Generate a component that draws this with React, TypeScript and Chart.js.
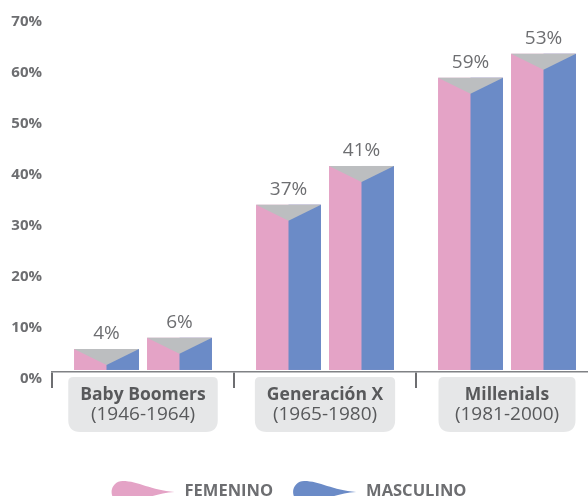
import React, { useEffect, useRef } from 'react';
import { Chart, registerables } from 'chart.js';

Chart.register(...registerables);

// ---- data ----
const categoryNames = ['Baby Boomers', 'Generación X', 'Millenials'];
const categoryYears = ['(1946-1964)', '(1965-1980)', '(1981-2000)'];
const barA = [4.1, 32.4, 57.3];
const barB = [6.3, 40.0, 62.0];
const labelsA = ['4%', '37%', '59%'];
const labelsB = ['6%', '41%', '53%'];
const yTicks = [0, 10, 20, 30, 40, 50, 60, 70];
const legendLabels = ['FEMENINO', 'MASCULINO'];

// ---- style ----
const PINK = '#e4a3c6';
const BLUE = '#6b8bc7';
const GREY = '#bcbec0';
const BOX = '#e6e7e8';
const TEXT = '#6d6e71';
const DARK = '#58595b';
const FONT = '"Open Sans", sans-serif';

function roundedBox(ctx: CanvasRenderingContext2D, x: number, y: number, w: number, h: number, rt: number, rb: number) {
  ctx.beginPath();
  ctx.moveTo(x + rt, y);
  ctx.lineTo(x + w - rt, y);
  ctx.quadraticCurveTo(x + w, y, x + w, y + rt);
  ctx.lineTo(x + w, y + h - rb);
  ctx.quadraticCurveTo(x + w, y + h, x + w - rb, y + h);
  ctx.lineTo(x + rb, y + h);
  ctx.quadraticCurveTo(x, y + h, x, y + h - rb);
  ctx.lineTo(x, y + rt);
  ctx.quadraticCurveTo(x, y, x + rt, y);
  ctx.closePath();
}

function comet(ctx: CanvasRenderingContext2D, x0: number, cy: number, len: number, r: number, color: string) {
  const cx = x0 + r;
  ctx.beginPath();
  ctx.moveTo(cx, cy - r);
  ctx.arc(cx, cy, r, -Math.PI / 2, Math.PI / 2, true);
  ctx.bezierCurveTo(cx + (len - r) * 0.3, cy + r, cx + (len - r) * 0.55, cy + r * 0.15, x0 + len, cy);
  ctx.bezierCurveTo(cx + (len - r) * 0.55, cy - r * 0.15, cx + (len - r) * 0.3, cy - r, cx, cy - r);
  ctx.closePath();
  ctx.fillStyle = color;
  ctx.fill();
}

const decorPlugin = {
  id: 'decor',
  afterDatasetsDraw(chart: any) {
    const ctx: CanvasRenderingContext2D = chart.ctx;
    const valueLabels = [labelsA, labelsB];
    chart.data.datasets.forEach((_ds: any, di: number) => {
      const meta = chart.getDatasetMeta(di);
      meta.data.forEach((bar: any, i: number) => {
        const { x, y, base, width } = bar.getProps(['x', 'y', 'base', 'width'], true);
        const l = x - width / 2;
        const r = x + width / 2;
        const depth = Math.min(16, base - y);
        ctx.save();
        ctx.fillStyle = BLUE;
        ctx.fillRect(x, y, r - x, base - y);
        ctx.fillStyle = GREY;
        ctx.beginPath();
        ctx.moveTo(l, y);
        ctx.lineTo(r, y);
        ctx.lineTo(x, y + depth);
        ctx.closePath();
        ctx.fill();
        ctx.fillStyle = TEXT;
        ctx.font = `400 19px ${FONT}`;
        ctx.textAlign = 'center';
        ctx.textBaseline = 'alphabetic';
        ctx.fillText(valueLabels[di][i], x, y - 10);
        ctx.restore();
      });
    });
  },
  afterDraw(chart: any) {
    const ctx: CanvasRenderingContext2D = chart.ctx;
    const xs = chart.scales.x;
    const top = chart.chartArea.bottom + 5;
    ctx.save();
    categoryNames.forEach((name, i) => {
      const cx = xs.getPixelForValue(i);
      ctx.font = `700 17.5px ${FONT}`;
      const w1 = ctx.measureText(name).width;
      ctx.font = `400 19px ${FONT}`;
      const w2 = ctx.measureText(categoryYears[i]).width;
      const bw = Math.max(137, Math.max(w1, w2) + 24);
      ctx.fillStyle = BOX;
      roundedBox(ctx, cx - bw / 2, top, bw, 55, 5, 12);
      ctx.fill();
      ctx.fillStyle = DARK;
      ctx.textAlign = 'center';
      ctx.textBaseline = 'alphabetic';
      ctx.font = `700 17.5px ${FONT}`;
      ctx.fillText(name, cx, top + 23);
      ctx.font = `400 19px ${FONT}`;
      ctx.fillText(categoryYears[i], cx, top + 43);
    });

    // legend
    const colors = [PINK, BLUE];
    const cometLen = 63;
    const gap = 10;
    const between = 20;
    ctx.font = `700 16.5px ${FONT}`;
    const widths = legendLabels.map((t) => ctx.measureText(t).width);
    const total = widths.reduce((a, w) => a + cometLen + gap + w, 0) + between * (legendLabels.length - 1);
    let x = 289 - total / 2;
    const cy = 492;
    legendLabels.forEach((t, i) => {
      comet(ctx, x, cy, cometLen, 11, colors[i]);
      x += cometLen + gap;
      ctx.fillStyle = TEXT;
      ctx.textAlign = 'left';
      ctx.fillText(t, x, 496);
      x += widths[i] + between;
    });
    ctx.restore();
  },
};

export default function App() {
  const ref = useRef<HTMLCanvasElement | null>(null);
  useEffect(() => {
    if (!ref.current) return;
    const chart = new Chart(ref.current, {
      type: 'bar',
      data: {
        labels: categoryNames,
        datasets: [
          { label: 'A', data: barA, backgroundColor: PINK, categoryPercentage: 0.802, barPercentage: 0.89 },
          { label: 'B', data: barB, backgroundColor: PINK, categoryPercentage: 0.802, barPercentage: 0.89 },
        ],
      },
      options: {
        responsive: true,
        maintainAspectRatio: false,
        animation: false,
        layout: { padding: { top: 13, left: 0, right: 0, bottom: 0 } },
        plugins: { legend: { display: false }, tooltip: { enabled: false } },
        scales: {
          x: {
            type: 'category',
            offset: true,
            grid: {
              display: true,
              offset: true,
              drawOnChartArea: false,
              drawTicks: true,
              tickLength: 16,
              lineWidth: 2,
              color: '#6d6e71',
            },
            border: { display: true, color: '#808285', width: 1.5 },
            ticks: { display: false },
            afterFit: (s: any) => {
              s.height = 124;
              s.paddingLeft = 0;
              s.paddingRight = 0;
            },
          },
          y: {
            min: -0.4,
            max: 70,
            grid: { display: false, drawTicks: false },
            border: { display: false },
            ticks: {
              padding: 10,
              labelOffset: 9,
              color: TEXT,
              font: { family: FONT, size: 15, weight: 'bold' },
              callback: (v: any) => `${v}%`,
            },
            afterBuildTicks: (s: any) => {
              s.ticks = yTicks.map((v) => ({ value: v }));
            },
            afterFit: (s: any) => {
              s.width = 52;
              s.paddingTop = 0;
              s.paddingBottom = 0;
            },
          },
        },
      } as any,
      plugins: [decorPlugin],
    });
    return () => chart.destroy();
  }, []);

  return (
    <div style={{ position: 'fixed', left: 0, top: 0, width: 588, height: 496, overflow: 'hidden', background: '#fff' }}>
      <div style={{ position: 'relative', width: 598, height: 496 }}>
        <canvas ref={ref} />
      </div>
    </div>
  );
}
